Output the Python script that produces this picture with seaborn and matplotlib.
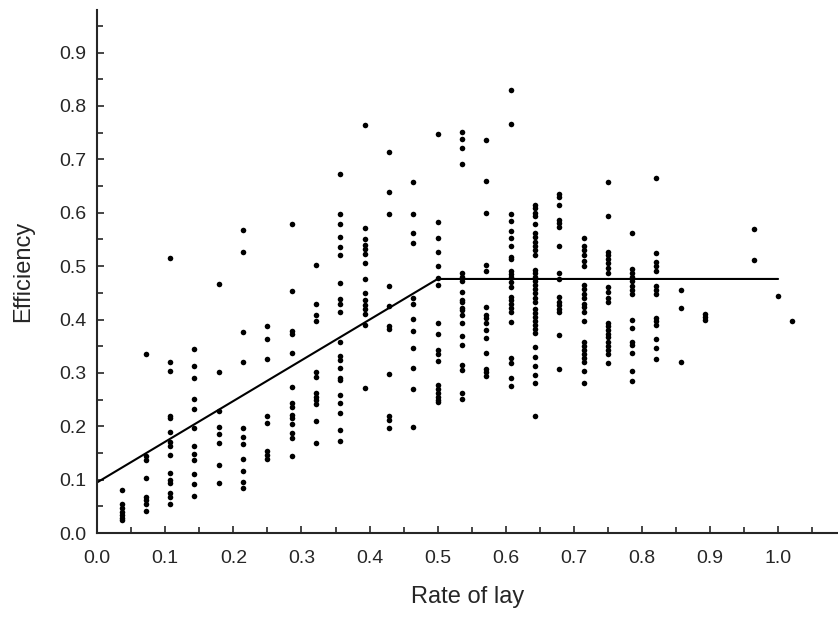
import numpy as np
import pandas as pd
import matplotlib
matplotlib.use('Agg')
import matplotlib.pyplot as plt
import seaborn as sns
from matplotlib.ticker import MultipleLocator

# rate of lay columns (k/28) and the efficiency readings at each
lay_rates = [1/28, 2/28, 3/28, 4/28, 5/28, 6/28, 7/28, 8/28, 9/28, 10/28,
             11/28, 12/28, 13/28, 14/28, 15/28, 16/28, 17/28, 18/28, 19/28,
             20/28, 21/28, 22/28, 23/28, 24/28, 25/28, 27/28, 28/28, 1.02]

efficiency_by_rate = [
    [0.081, 0.055, 0.047, 0.04, 0.034, 0.028, 0.024],
    [0.336, 0.144, 0.136, 0.103, 0.068, 0.062, 0.054, 0.041],
    [0.516, 0.32, 0.304, 0.22, 0.215, 0.19, 0.171, 0.164, 0.146, 0.113, 0.1, 0.094, 0.075, 0.068, 0.054],
    [0.345, 0.313, 0.29, 0.252, 0.233, 0.197, 0.164, 0.148, 0.137, 0.111, 0.092, 0.069],
    [0.467, 0.302, 0.229, 0.199, 0.186, 0.169, 0.128, 0.094],
    [0.568, 0.527, 0.377, 0.32, 0.197, 0.18, 0.167, 0.139, 0.116, 0.096, 0.084],
    [0.388, 0.364, 0.326, 0.22, 0.206, 0.154, 0.146, 0.139],
    [0.578, 0.454, 0.379, 0.373, 0.338, 0.274, 0.244, 0.236, 0.221, 0.216, 0.205, 0.188, 0.178, 0.144],
    [0.503, 0.43, 0.409, 0.398, 0.302, 0.293, 0.263, 0.255, 0.25, 0.242, 0.21, 0.169],
    [0.673, 0.597, 0.578, 0.555, 0.535, 0.52, 0.469, 0.439, 0.43, 0.415, 0.357, 0.332, 0.325,
     0.31, 0.291, 0.287, 0.259, 0.244, 0.225, 0.193, 0.173],
    [0.765, 0.572, 0.55, 0.54, 0.532, 0.523, 0.505, 0.475, 0.45, 0.437, 0.428, 0.42, 0.41, 0.39, 0.272],
    [0.713, 0.638, 0.598, 0.463, 0.426, 0.388, 0.383, 0.298, 0.22, 0.212, 0.197],
    [0.657, 0.597, 0.563, 0.544, 0.441, 0.43, 0.401, 0.379, 0.347, 0.31, 0.27, 0.199],
    [0.747, 0.582, 0.552, 0.527, 0.501, 0.478, 0.465, 0.394, 0.373, 0.343, 0.335, 0.323,
     0.278, 0.27, 0.262, 0.255, 0.25, 0.246],
    [0.752, 0.739, 0.722, 0.692, 0.488, 0.48, 0.473, 0.452, 0.437, 0.433, 0.422, 0.418, 0.409,
     0.394, 0.37, 0.353, 0.315, 0.306, 0.263, 0.251],
    [0.737, 0.66, 0.6, 0.503, 0.49, 0.424, 0.409, 0.403, 0.394, 0.381, 0.366, 0.338, 0.308, 0.302, 0.295],
    [0.829, 0.767, 0.598, 0.584, 0.565, 0.552, 0.537, 0.518, 0.513, 0.49, 0.485, 0.479, 0.47,
     0.461, 0.443, 0.437, 0.43, 0.422, 0.414, 0.396, 0.328, 0.319, 0.291, 0.276],
    [0.615, 0.608, 0.6, 0.593, 0.578, 0.563, 0.555, 0.545, 0.537, 0.53, 0.52, 0.493, 0.487, 0.48,
     0.473, 0.465, 0.457, 0.45, 0.44, 0.432, 0.42, 0.413, 0.405, 0.398, 0.39, 0.383, 0.375,
     0.349, 0.33, 0.313, 0.296, 0.282, 0.22],
    [0.636, 0.63, 0.615, 0.587, 0.58, 0.574, 0.537, 0.488, 0.475, 0.443, 0.432, 0.428, 0.42, 0.415, 0.371, 0.307],
    [0.553, 0.537, 0.53, 0.52, 0.51, 0.5, 0.465, 0.457, 0.447, 0.44, 0.43, 0.423, 0.415, 0.398,
     0.358, 0.35, 0.342, 0.335, 0.328, 0.32, 0.304, 0.282],
    [0.657, 0.593, 0.527, 0.52, 0.513, 0.505, 0.497, 0.487, 0.46, 0.452, 0.44, 0.432, 0.394,
     0.387, 0.38, 0.373, 0.367, 0.357, 0.35, 0.343, 0.335, 0.319],
    [0.563, 0.495, 0.488, 0.48, 0.472, 0.462, 0.455, 0.447, 0.4, 0.385, 0.358, 0.353, 0.338, 0.304, 0.285],
    [0.666, 0.525, 0.507, 0.5, 0.49, 0.462, 0.455, 0.447, 0.403, 0.397, 0.39, 0.364, 0.347, 0.326],
    [0.456, 0.422, 0.32],
    [0.41, 0.405, 0.4],
    [0.57, 0.512],
    [0.445],
    [0.398],
]

# fitted broken-stick line
fit_x = [0.0, 0.5, 1.0]
fit_y = [0.095, 0.476, 0.476]

rows = [(r, e) for r, effs in zip(lay_rates, efficiency_by_rate) for e in effs]
df = pd.DataFrame(rows, columns=['rate', 'efficiency'])

sns.set_style('ticks')
plt.rcParams['font.family'] = ['Liberation Sans', 'DejaVu Sans']

fig = plt.figure(figsize=(8.38, 6.17), dpi=100)
ax = fig.add_axes([0.116, 0.136, 0.884, 0.848])

sns.scatterplot(x='rate', y='efficiency', data=df, color='black', s=16,
                linewidth=0, ax=ax)
sns.lineplot(x=fit_x, y=fit_y, color='black', linewidth=1.5, sort=False, ax=ax)

ax.set_xlim(0, 1.088)
ax.set_ylim(0, 0.98)
ax.xaxis.set_minor_locator(MultipleLocator(0.05))
ax.yaxis.set_minor_locator(MultipleLocator(0.05))
ax.set_xticks(np.arange(0, 1.01, 0.1))
ax.set_xticklabels([f'{v:.1f}' for v in np.arange(0, 1.01, 0.1)])
ax.set_yticks(np.arange(0, 0.91, 0.1))
ax.set_yticklabels([f'{v:.1f}' for v in np.arange(0, 0.91, 0.1)])
ax.tick_params(which='both', direction='in', labelsize=14, width=1.2)
ax.tick_params(which='major', length=5)
ax.tick_params(which='minor', length=4)
ax.tick_params(axis='x', which='major', pad=12)
ax.tick_params(axis='y', which='major', pad=8)
sns.despine(ax=ax)
for sp in ['left', 'bottom']:
    ax.spines[sp].set_linewidth(1.5)

ax.set_xlabel('Rate of lay', fontsize=17, labelpad=14)
ax.set_ylabel('Efficiency', fontsize=17, labelpad=18)

fig.savefig('out.png', dpi=100)
